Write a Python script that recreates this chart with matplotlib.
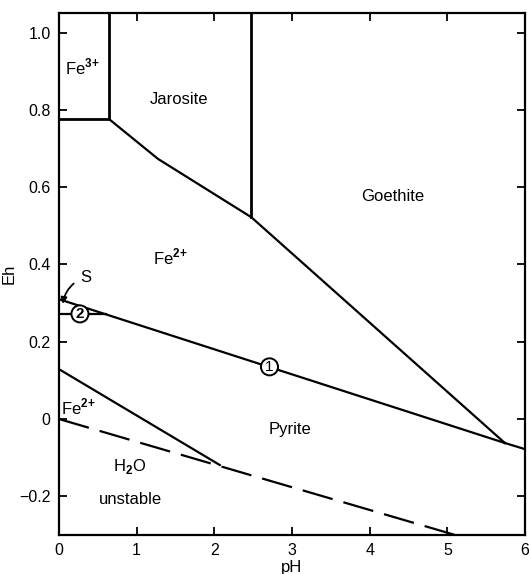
import matplotlib

matplotlib.use("Agg")

import matplotlib.pyplot as plt

plt.rcParams["font.family"] = ["Liberation Sans", "DejaVu Sans"]
plt.rcParams["mathtext.fontset"] = "custom"
plt.rcParams["mathtext.rm"] = "Liberation Sans"
plt.rcParams["mathtext.bf"] = "Liberation Sans:bold"

# boundary lines, (pH, Eh) vertices
fe3_jarosite_ph = [0.0, 0.645, 0.645]
fe3_jarosite_eh = [0.776, 0.776, 1.05]
jarosite_fe2_ph = [0.645, 1.275, 2.477]
jarosite_fe2_eh = [0.776, 0.673, 0.522]
jarosite_goethite_ph = [2.477, 2.477]
jarosite_goethite_eh = [0.522, 1.05]
goethite_fe2_ph = [2.477, 5.74]
goethite_fe2_eh = [0.522, -0.062]
goethite_pyrite_ph = [5.74, 6.0]
goethite_pyrite_eh = [-0.062, -0.078]
line1_ph = [0.0, 5.74]
line1_eh = [0.31, -0.062]
line2_ph = [0.0, 0.61]
line2_eh = [0.272, 0.272]
fe2_pyrite_ph = [0.0, 2.07]
fe2_pyrite_eh = [0.129, -0.119]
water_ph = [0.0, 5.1]
water_eh = [0.0, -0.3]

field_labels = [
    (0.30, 0.91, r"Fe$^{\mathbf{3{+}}}$"),
    (1.54, 0.828, "Jarosite"),
    (4.30, 0.577, "Goethite"),
    (1.43, 0.42, r"Fe$^{\mathbf{2{+}}}$"),
    (2.97, -0.026, "Pyrite"),
    (0.25, 0.03, r"Fe$^{\mathbf{2{+}}}$"),
    (0.91, -0.124, r"H$_\mathbf{2}$O"),
    (0.92, -0.207, "unstable"),
]

x_ticks = [0, 1, 2, 3, 4, 5, 6]
y_ticks = [-0.2, 0, 0.2, 0.4, 0.6, 0.8, 1.0]
y_tick_labels = ["\u22120.2", "0", "0.2", "0.4", "0.6", "0.8", "1.0"]

fig = plt.figure(figsize=(5.29, 5.74), dpi=100)
ax = fig.add_axes([0.1115, 0.068, 0.881, 0.909])

solid = dict(color="black", lw=1.6, solid_joinstyle="miter")
ax.plot(fe3_jarosite_ph, fe3_jarosite_eh, lw=2.0, color="black")
ax.plot(jarosite_fe2_ph, jarosite_fe2_eh, **solid)
ax.plot(jarosite_goethite_ph, jarosite_goethite_eh, lw=2.0, color="black")
ax.plot(goethite_fe2_ph, goethite_fe2_eh, **solid)
ax.plot(goethite_pyrite_ph, goethite_pyrite_eh, **solid)
ax.plot(line1_ph, line1_eh, **solid)
ax.plot(line2_ph, line2_eh, **solid)
ax.plot(fe2_pyrite_ph, fe2_pyrite_eh, **solid)
ax.plot(water_ph, water_eh, color="black", lw=1.6,
        linestyle=(0, (14, 5.05)), clip_on=False)

# circled line numbers
circ = dict(boxstyle="circle,pad=0.1", fc="white", ec="black", lw=1.4)
ax.text(2.71, 0.135, "1", ha="center", va="center", fontsize=11, bbox=circ)
ax.text(0.27, 0.272, "2", ha="center", va="center", fontsize=11,
        fontweight="bold", bbox=circ)

ax.annotate("S", xy=(0.05, 0.298), xytext=(0.34, 0.367), fontsize=12,
            ha="center", va="center",
            arrowprops=dict(arrowstyle="-|>", color="black", lw=1.3,
                            mutation_scale=9, shrinkA=3, shrinkB=0,
                            connectionstyle="arc3,rad=0.3"))

for x, y, label in field_labels:
    ax.text(x, y, label, ha="center", va="center", fontsize=12)

ax.set_xlim(0, 6)
ax.set_ylim(-0.3, 1.05)
ax.set_xticks(x_ticks)
ax.set_yticks(y_ticks)
ax.set_yticklabels(y_tick_labels)
ax.tick_params(direction="in", length=6, width=1.3, top=True, right=True,
               labelsize=11.5, pad=6)
for side in ax.spines.values():
    side.set_linewidth(1.6)
ax.set_xlabel("pH", fontsize=12, labelpad=1)
ax.set_ylabel("Eh", fontsize=12, labelpad=2)

fig.savefig("out.png", dpi=100)
